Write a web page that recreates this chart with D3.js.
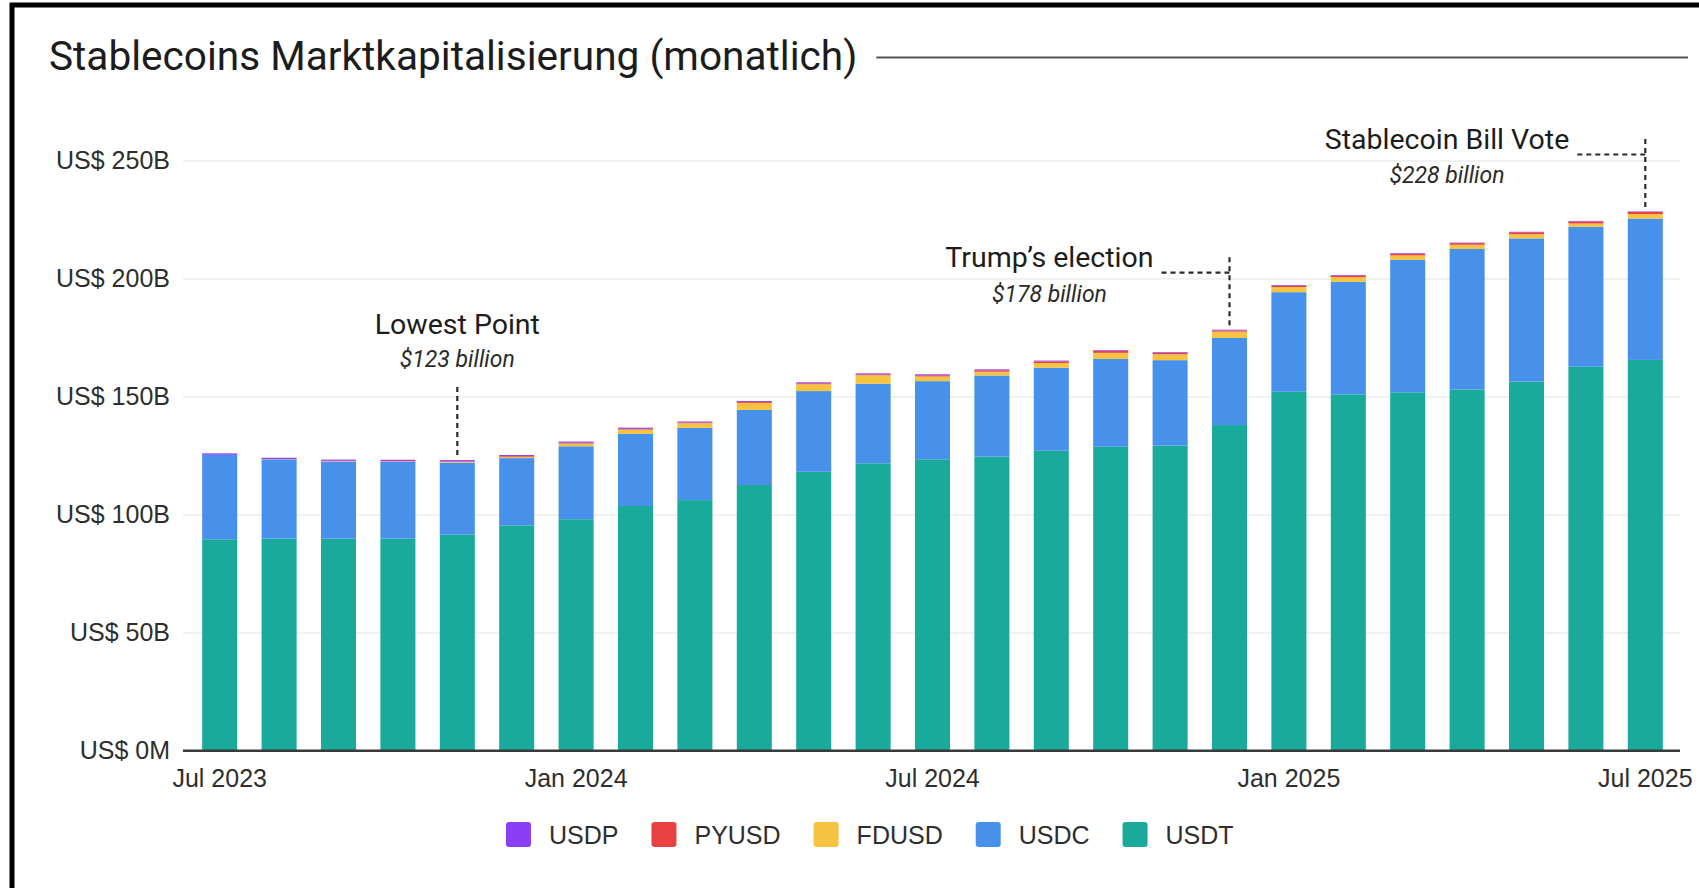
<!DOCTYPE html>
<html>
<head>
<meta charset="utf-8">
<script src="https://cdn.jsdelivr.net/npm/d3@7"></script>
<style>
  html, body { margin: 0; padding: 0; background: #fff; }
  svg { display: block; }
</style>
</head>
<body>
<div id="chart"></div>
<script>
// Data (US$ billions, monthly)
const months = [
  "Jul 2023", "Aug 2023", "Sep 2023", "Oct 2023", "Nov 2023", "Dec 2023",
  "Jan 2024", "Feb 2024", "Mar 2024", "Apr 2024", "May 2024", "Jun 2024",
  "Jul 2024", "Aug 2024", "Sep 2024", "Oct 2024", "Nov 2024", "Dec 2024",
  "Jan 2025", "Feb 2025", "Mar 2025", "Apr 2025", "May 2025", "Jun 2025",
  "Jul 2025"
];
const usdt  = [89.5, 89.8, 89.8, 89.8, 91.5, 95.4, 98.0, 103.6, 106.1, 112.5, 118.1, 121.7,
               123.4, 124.5, 127.0, 128.7, 129.2, 137.9, 152.0, 150.9, 151.8, 153.0, 156.3, 162.6, 165.5];
const usdc  = [35.8, 33.6, 32.6, 32.5, 30.5, 28.5, 30.9, 30.6, 30.6, 31.8, 34.2, 33.7,
               33.1, 34.4, 35.2, 37.2, 36.2, 36.9, 42.2, 47.7, 56.1, 59.5, 60.7, 59.3, 59.9];
const fdusd = [0.0, 0.1, 0.2, 0.2, 0.3, 0.5, 1.2, 1.8, 2.0, 3.0, 2.9, 3.6,
               2.0, 1.6, 2.0, 2.6, 2.5, 2.7, 2.2, 2.0, 1.9, 1.8, 1.8, 1.4, 1.9];
const pyusd = [0.0, 0.05, 0.15, 0.2, 0.25, 0.3, 0.3, 0.3, 0.3, 0.4, 0.4, 0.4,
               0.5, 0.6, 0.7, 0.8, 0.6, 0.5, 0.5, 0.6, 0.6, 0.7, 0.8, 0.9, 0.9];
const usdp  = [0.6, 0.5, 0.5, 0.5, 0.5, 0.5, 0.5, 0.5, 0.4, 0.4, 0.4, 0.4,
               0.4, 0.4, 0.3, 0.3, 0.3, 0.3, 0.3, 0.3, 0.3, 0.2, 0.2, 0.2, 0.2];

const coins = ["USDT", "USDC", "FDUSD", "PYUSD", "USDP"];        // stack order, bottom up
const legendOrder = ["USDP", "PYUSD", "FDUSD", "USDC", "USDT"];
const yTicks = [0, 50, 100, 150, 200, 250];
const xTicks = ["Jul 2023", "Jan 2024", "Jul 2024", "Jan 2025", "Jul 2025"];

const annotations = [
  {month: "Nov 2023", label: "Lowest Point",        value: "$123 billion", kind: "above"},
  {month: "Dec 2024", label: "Trump\u2019s election", value: "$178 billion", kind: "left"},
  {month: "Jul 2025", label: "Stablecoin Bill Vote", value: "$228 billion", kind: "left"}
];

const colors = {
  USDT:  "#19aa9b",
  USDC:  "#4791ea",
  FDUSD: "#f5c242",
  PYUSD: "#e94141",
  USDP:  "#8b3ff5"
};

// Build rows for the stack
const series = {USDT: usdt, USDC: usdc, FDUSD: fdusd, PYUSD: pyusd, USDP: usdp};
const rows = months.map((m, i) => {
  const r = {month: m};
  coins.forEach(c => r[c] = series[c][i]);
  return r;
});
const stacked = d3.stack().keys(coins)(rows);

// Layout
const W = 1699, H = 888;
const plot = {left: 183, right: 1680, top: 160.5, bottom: 750.5};
const uiFont = "'Liberation Sans', Arial, Helvetica, sans-serif";
const headFont = "Roboto, 'Noto Sans', sans-serif";

const svg = d3.select("#chart").append("svg")
  .attr("width", W)
  .attr("height", H);

svg.append("rect").attr("width", W).attr("height", H).attr("fill", "#fff");

// black frame (top + left edge of the screenshot box)
svg.append("path")
  .attr("d", `M12,${H} V5 H${W}`)
  .attr("fill", "none")
  .attr("stroke", "#000")
  .attr("stroke-width", 5);

// Scales
const x = d3.scaleBand()
  .domain(months)
  .range([190, 1675])
  .paddingInner(0.41)
  .paddingOuter(0.205);

const y = d3.scaleLinear()
  .domain([0, 250])
  .range([plot.bottom, plot.top]);

// Title
const title = svg.append("text")
  .attr("x", 49)
  .attr("y", 70)
  .style("font-family", headFont)
  .style("font-size", "40.6px")
  .style("fill", "#1c1c1c")
  .text("Stablecoins Marktkapitalisierung (monatlich)");

const titleEnd = 49 + title.node().getComputedTextLength();
svg.append("line")
  .attr("x1", titleEnd + 19)
  .attr("x2", 1688)
  .attr("y1", 57.5)
  .attr("y2", 57.5)
  .attr("stroke", "#555")
  .attr("stroke-width", 2);

// Gridlines
svg.append("g")
  .attr("transform", `translate(${plot.left},0)`)
  .call(d3.axisLeft(y).tickValues(yTicks).tickSize(-(plot.right - plot.left)).tickFormat(""))
  .call(g => g.select(".domain").remove())
  .call(g => g.selectAll(".tick line")
    .attr("stroke", d => d === 0 ? "#3a3a3a" : "#ededed")
    .attr("stroke-width", d => d === 0 ? 2 : 1.5));

// Y axis labels
svg.append("g")
  .attr("transform", `translate(${plot.left},0)`)
  .call(d3.axisLeft(y).tickValues(yTicks).tickSize(0).tickPadding(13)
    .tickFormat(d => d === 0 ? "US$ 0M" : `US$ ${d}B`))
  .call(g => g.select(".domain").remove())
  .call(g => g.selectAll("text")
    .style("font-family", uiFont)
    .style("font-size", "25px")
    .style("fill", "#2e2e2e"));

// Bars
svg.append("g")
  .selectAll("g")
  .data(stacked)
  .join("g")
  .attr("fill", d => colors[d.key])
  .selectAll("rect")
  .data(d => d)
  .join("rect")
  .attr("x", d => x(d.data.month))
  .attr("y", d => y(d[1]))
  .attr("height", d => y(d[0]) - y(d[1]))
  .attr("width", x.bandwidth());

// baseline on top of bars
svg.append("line")
  .attr("x1", plot.left)
  .attr("x2", plot.right)
  .attr("y1", y(0))
  .attr("y2", y(0))
  .attr("stroke", "#3a3a3a")
  .attr("stroke-width", 2);

// X axis labels
svg.append("g")
  .attr("transform", `translate(0,${y(0)})`)
  .call(d3.axisBottom(x).tickValues(xTicks).tickSize(0).tickPadding(19))
  .call(g => g.select(".domain").remove())
  .call(g => g.selectAll("text")
    .style("font-family", uiFont)
    .style("font-size", "25px")
    .style("fill", "#2e2e2e"));

// Annotations
const totalOf = m => {
  const last = stacked[stacked.length - 1];
  return last[months.indexOf(m)][1];
};

const ann = svg.append("g");
annotations.forEach(a => {
  const xc = x(a.month) + x.bandwidth() / 2;
  const yTop = y(totalOf(a.month));
  const dash = {stroke: "#2a2a2a", width: 2.2, array: "5,4"};

  if (a.kind === "above") {
    ann.append("text")
      .attr("x", xc).attr("y", yTop - 126)
      .attr("text-anchor", "middle")
      .style("font-family", headFont).style("font-size", "28.5px").style("fill", "#1c1c1c")
      .text(a.label);
    ann.append("text")
      .attr("x", xc).attr("y", yTop - 93)
      .attr("text-anchor", "middle")
      .style("font-family", headFont).style("font-size", "23px")
      .style("font-style", "italic").style("fill", "#2a2a2a")
      .text(a.value);
    ann.append("line")
      .attr("x1", xc).attr("x2", xc)
      .attr("y1", yTop - 73).attr("y2", yTop - 2)
      .attr("stroke", dash.stroke).attr("stroke-width", dash.width)
      .attr("stroke-dasharray", dash.array);
  } else {
    const main = ann.append("text")
      .attr("x", xc - 76).attr("y", yTop - 62.5)
      .attr("text-anchor", "end")
      .style("font-family", headFont).style("font-size", "28.5px").style("fill", "#1c1c1c")
      .text(a.label);
    const w = main.node().getComputedTextLength();
    ann.append("text")
      .attr("x", xc - 76 - w / 2).attr("y", yTop - 28)
      .attr("text-anchor", "middle")
      .style("font-family", headFont).style("font-size", "23px")
      .style("font-style", "italic").style("fill", "#2a2a2a")
      .text(a.value);
    ann.append("line")
      .attr("x1", xc - 68).attr("x2", xc)
      .attr("y1", yTop - 57).attr("y2", yTop - 57)
      .attr("stroke", dash.stroke).attr("stroke-width", dash.width)
      .attr("stroke-dasharray", dash.array);
    ann.append("line")
      .attr("x1", xc).attr("x2", xc)
      .attr("y1", yTop - 72.5).attr("y2", yTop - 2)
      .attr("stroke", dash.stroke).attr("stroke-width", dash.width)
      .attr("stroke-dasharray", dash.array);
  }
});

// Legend
const legend = svg.append("g").attr("transform", "translate(506,822)");
let lx = 0;
legendOrder.forEach(k => {
  const item = legend.append("g").attr("transform", `translate(${lx},0)`);
  item.append("rect")
    .attr("width", 25).attr("height", 25).attr("rx", 3)
    .attr("fill", colors[k]);
  const t = item.append("text")
    .attr("x", 43).attr("y", 21.5)
    .style("font-family", uiFont)
    .style("font-size", "25px")
    .style("fill", "#2e2e2e")
    .text(k);
  lx += 43 + t.node().getComputedTextLength() + 33;
});
</script>
</body>
</html>
